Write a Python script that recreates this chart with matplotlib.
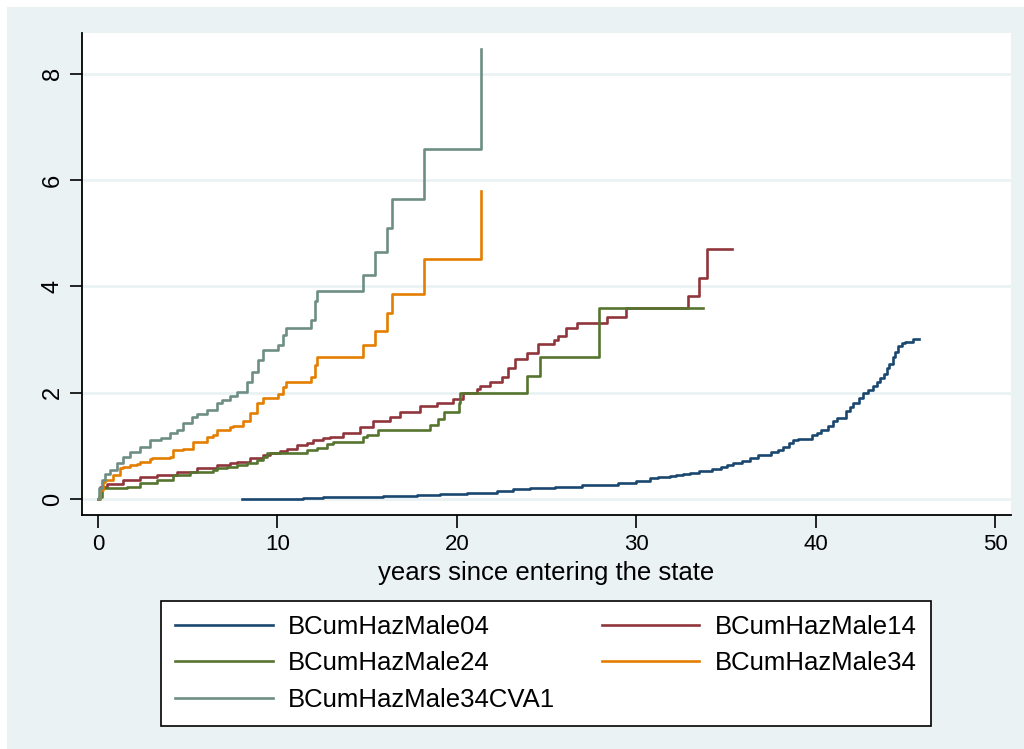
import matplotlib
matplotlib.use("Agg")
import matplotlib.pyplot as plt
from matplotlib.patches import Rectangle

plt.rcParams['font.family'] = ['Liberation Sans', 'DejaVu Sans']

# step points (time, cumulative hazard)
t04 = [8.01, 9.21, 11.44, 12.56, 14.79, 15.9, 17.76, 19.06, 20.55, 22.22, 23.15, 24.08,
       25.5, 27.0, 28.0, 29.0, 30.0, 30.77, 31.2, 31.9, 32.2, 32.63, 33.0, 33.5, 33.8,
       34.2, 34.7, 35.04, 35.4, 35.9, 36.34, 36.8, 37.5, 37.9, 38.2, 38.5, 38.76, 39.0,
       39.8, 40.06, 40.3, 40.7, 40.99, 41.2, 41.7, 41.92, 42.1, 42.4, 42.66, 42.9, 43.2,
       43.4, 43.6, 43.8, 43.96, 44.1, 44.3, 44.45, 44.6, 44.8, 44.98, 45.45, 45.78]
h04 = [0.0, 0.005, 0.02, 0.03, 0.04, 0.06, 0.08, 0.09, 0.12, 0.16, 0.18, 0.21,
       0.23, 0.26, 0.27, 0.30, 0.34, 0.39, 0.41, 0.44, 0.45, 0.47, 0.49, 0.52, 0.53,
       0.56, 0.60, 0.64, 0.67, 0.72, 0.78, 0.82, 0.89, 0.93, 0.98, 1.05, 1.11, 1.13,
       1.20, 1.25, 1.30, 1.38, 1.46, 1.52, 1.66, 1.74, 1.80, 1.90, 1.99, 2.06, 2.13,
       2.21, 2.28, 2.36, 2.46, 2.55, 2.68, 2.76, 2.88, 2.93, 2.96, 3.01, 3.01]

t14 = [0, 0.1, 0.48, 1.41, 2.34, 3.27, 4.38, 5.5, 6.62, 7.36, 7.73, 8.47, 9.21, 9.59,
       10.14, 10.52, 11.08, 11.63, 12.0, 12.56, 12.93, 13.67, 13.86, 14.6, 15.35, 16.28,
       16.83, 17.95, 18.88, 19.81, 20.37, 21.1, 21.3, 21.85, 22.5, 22.87, 23.24, 23.89,
       24.55, 25.42, 25.62, 26.07, 26.68, 28.35, 29.41, 32.9, 33.5, 33.96, 35.36]
h14 = [0, 0.23, 0.29, 0.36, 0.41, 0.45, 0.51, 0.58, 0.64, 0.68, 0.70, 0.77, 0.83, 0.86,
       0.91, 0.94, 1.02, 1.05, 1.11, 1.14, 1.17, 1.24, 1.25, 1.36, 1.47, 1.55,
       1.64, 1.76, 1.81, 1.89, 1.99, 2.08, 2.12, 2.21, 2.30, 2.46, 2.63, 2.74,
       2.91, 2.99, 3.07, 3.21, 3.31, 3.42, 3.59, 3.82, 4.16, 4.70, 4.70]

t24 = [0, 0.05, 0.22, 1.6, 2.34, 3.27, 4.2, 5.13, 5.5, 6.43, 6.62, 7.17, 7.73, 8.29,
       8.85, 9.21, 9.4, 10.89, 11.63, 12.19, 12.74, 13.12, 14.79, 14.97, 15.63, 18.5,
       18.97, 19.3, 20.12, 20.18, 23.9, 24.64, 27.94, 33.74]
h24 = [0, 0.04, 0.20, 0.23, 0.30, 0.36, 0.45, 0.50, 0.51, 0.55, 0.58, 0.61, 0.64, 0.68,
       0.73, 0.79, 0.86, 0.87, 0.92, 0.97, 1.04, 1.08, 1.17, 1.21, 1.30, 1.39,
       1.50, 1.63, 1.80, 2.00, 2.32, 2.68, 3.60, 3.60]

t34 = [0, 0.11, 0.3, 0.39, 0.85, 1.23, 1.41, 1.78, 2.16, 2.34, 2.9, 2.99, 4.01, 4.2,
       4.76, 5.31, 6.06, 6.43, 6.62, 7.36, 7.54, 8.1, 8.47, 8.85, 9.18, 10.05, 10.3,
       10.46, 11.9, 12.1, 12.23, 14.77, 15.44, 16.09, 16.37, 18.2, 21.35]
h34 = [0, 0.17, 0.33, 0.36, 0.45, 0.58, 0.60, 0.64, 0.66, 0.70, 0.75, 0.78, 0.80, 0.92,
       0.95, 1.08, 1.17, 1.21, 1.30, 1.36, 1.37, 1.46, 1.61, 1.80, 1.91, 1.98, 2.11,
       2.21, 2.30, 2.52, 2.68, 2.89, 3.17, 3.50, 3.86, 4.51, 5.79]

tcva = [0, 0.07, 0.2, 0.39, 0.67, 1.04, 1.41, 1.78, 2.34, 2.9, 3.5, 4.01, 4.4, 4.76,
        5.22, 5.5, 6.06, 6.62, 6.89, 7.36, 7.73, 8.29, 8.6, 8.9, 9.18, 10.05, 10.3,
        10.46, 11.9, 12.1, 12.23, 14.77, 15.44, 16.09, 16.37, 18.2, 21.35]
hcva = [0, 0.20, 0.36, 0.47, 0.55, 0.67, 0.80, 0.89, 0.98, 1.11, 1.15, 1.24, 1.30, 1.43,
        1.55, 1.60, 1.68, 1.80, 1.86, 1.93, 2.02, 2.21, 2.40, 2.62, 2.81, 2.90, 3.09,
        3.21, 3.37, 3.72, 3.92, 4.21, 4.64, 5.10, 5.64, 6.59, 8.47]

series = [
    ("BCumHazMale04", t04, h04, "#1A476F"),
    ("BCumHazMale14", t14, h14, "#90353B"),
    ("BCumHazMale24", t24, h24, "#55752F"),
    ("BCumHazMale34", t34, h34, "#E37E00"),
    ("BCumHazMale34CVA1", tcva, hcva, "#6E8E84"),
]

W, H = 1024, 749
fig = plt.figure(figsize=(W / 100, H / 100), dpi=100, facecolor='white')
fig.patches.append(Rectangle((7 / W, 0), 1, 1 - 7 / H, transform=fig.transFigure,
                             facecolor='#EAF2F3', edgecolor='none', zorder=-10))

ax = fig.add_axes([82 / W, 1 - 515 / H, (1011 - 82) / W, (515 - 33) / H])
ax.set_facecolor('white')

lines = []
for name, t, h, c in series:
    ln, = ax.plot(t, h, drawstyle='steps-post', color=c, lw=1.9, label=name)
    lines.append(ln)

ax.set_xlim(-0.89, 50.89)
ax.set_ylim(-0.30, 8.77)
ax.set_xticks([0, 10, 20, 30, 40, 50])
ax.set_yticks([0, 2, 4, 6, 8])
ax.yaxis.grid(True, color='#EAF2F3', lw=2)
ax.set_axisbelow(True)
for s in ['top', 'right']:
    ax.spines[s].set_visible(False)
for s in ['left', 'bottom']:
    ax.spines[s].set_linewidth(1.3)
ax.tick_params(axis='x', length=9, width=1.2, labelsize=16, pad=5)
ax.tick_params(axis='y', length=9, width=1.2, labelsize=17, pad=4, labelrotation=90)
for lab in ax.get_yticklabels():
    lab.set_va('center')
ax.set_xlabel("years since entering the state", fontsize=18.5, labelpad=4)

# row-wise legend order (matplotlib fills columns first)
order = [0, 2, 4, 1, 3]
leg = ax.legend([lines[i] for i in order], [series[i][0] for i in order],
                loc='upper left', ncol=2, fontsize=18.5,
                bbox_to_anchor=(161 / W, 1 - 601 / H),
                bbox_transform=fig.transFigure, fancybox=False, framealpha=1,
                edgecolor='black', handlelength=3.8, handletextpad=0.6,
                columnspacing=1.8, labelspacing=0.48, borderaxespad=0,
                borderpad=0.55)
leg.get_frame().set_linewidth(1.2)

fig.savefig("out.png", dpi=100, facecolor=fig.get_facecolor())
